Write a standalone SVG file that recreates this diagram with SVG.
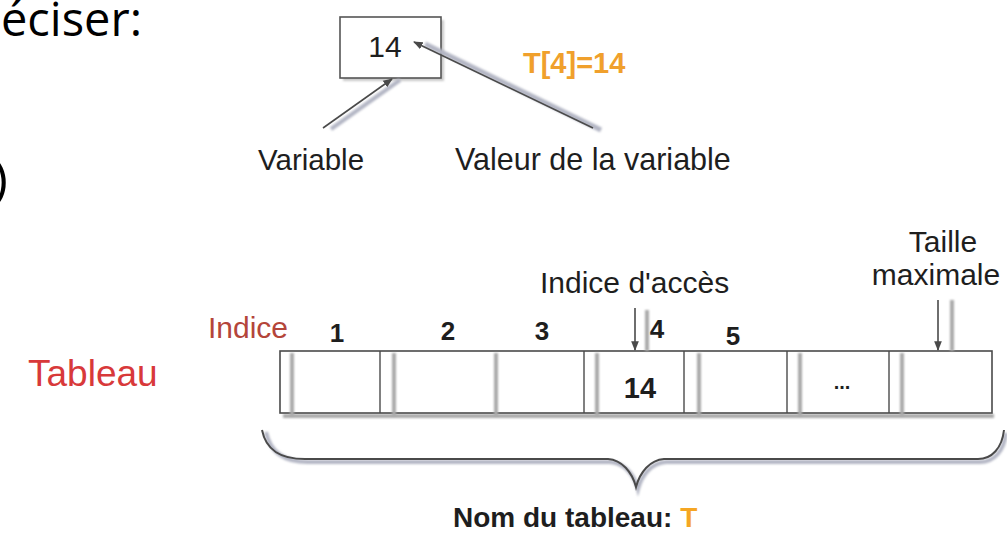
<svg xmlns="http://www.w3.org/2000/svg" width="1007" height="533" viewBox="0 0 1007 533">
  <defs>
    <style>
      .lbl{font-family:"Liberation Sans",Arial,sans-serif;fill:#1e1e1e}
      .b{font-weight:bold}
      .head{font-family:"Open Sans","Liberation Sans",sans-serif;fill:#000}
      .edge{stroke:#4a4a4a;stroke-width:1.6;fill:none}
      .glow{stroke:#b3b6c4;stroke-width:4;fill:none;filter:url(#soft)}
      .cell{fill:#fff;stroke:#4a4a4a;stroke-width:1.6}
      .div{stroke:#4a4a4a;stroke-width:1.4}
      .sh{stroke:#a9a9a9;stroke-width:4;filter:url(#soft)}
    </style>
    <!-- user-space region so blurred straight lines keep their extent -->
    <filter id="soft" filterUnits="userSpaceOnUse" x="0" y="0" width="1007" height="533">
      <feGaussianBlur stdDeviation="1.2"/>
    </filter>
    <marker id="ah" viewBox="0 0 10 10" refX="9" refY="5" markerWidth="6" markerHeight="6" orient="auto-start-reverse">
      <path d="M0,1 L10,5 L0,9 z" fill="#4a4a4a"/>
    </marker>
  </defs>

  <!-- heading fragment -->
  <g id="heading">
    <text class="head" x="1" y="36" font-size="48" textLength="141" lengthAdjust="spacingAndGlyphs">éciser:</text>
    <text class="head" x="-7" y="196" font-size="50">)</text>
  </g>

  <!-- single variable box -->
  <g id="variable-box">
    <rect x="343" y="20" width="101" height="61" fill="#c9c9c9" filter="url(#soft)"/>
    <rect x="340" y="17" width="101" height="61" fill="#fff" stroke="#555" stroke-width="1.6"/>
    <text class="lbl" x="385" y="57" font-size="30" text-anchor="middle">14</text>
  </g>

  <g id="labels-top">
    <text class="lbl" x="258" y="170" font-size="29.5">Variable</text>
    <text class="lbl" x="455" y="170" font-size="30.5">Valeur de la variable</text>
    <text class="lbl b" x="523" y="73" font-size="29" style="fill:#f0a02c">T[4]=14</text>
  </g>

  <!-- array -->
  <g id="table-label">
    <text class="lbl" x="28" y="386" font-size="37" style="fill:#d8393a">Tableau</text>
    <text class="lbl" x="208" y="338" font-size="30" style="fill:#b4453a">Indice</text>
  </g>

  <g id="indices">
    <text class="lbl b" x="337" y="342" font-size="26" text-anchor="middle">1</text>
    <text class="lbl b" x="448" y="340" font-size="26" text-anchor="middle">2</text>
    <text class="lbl b" x="542" y="340" font-size="26" text-anchor="middle">3</text>
    <text class="lbl b" x="657" y="338" font-size="26" text-anchor="middle">4</text>
    <text class="lbl b" x="733" y="345" font-size="26" text-anchor="middle">5</text>
  </g>

  <g id="table">
    <line class="sh" x1="283" y1="416" x2="994" y2="416"/>
    <rect class="cell" x="280" y="351" width="712" height="62"/>
    <g id="cell-shadows">
      <line class="sh" x1="292" y1="353" x2="292" y2="416"/>
      <line class="sh" x1="394" y1="353" x2="394" y2="416"/>
      <line class="sh" x1="496" y1="353" x2="496" y2="416"/>
      <line class="sh" x1="597" y1="353" x2="597" y2="416"/>
      <line class="sh" x1="699" y1="353" x2="699" y2="416"/>
      <line class="sh" x1="800" y1="353" x2="800" y2="416"/>
      <line class="sh" x1="902" y1="353" x2="902" y2="416"/>
    </g>
    <g id="cell-borders">
      <line class="div" x1="380" y1="351" x2="380" y2="413"/>
      <line class="div" x1="584" y1="351" x2="584" y2="413"/>
      <line class="div" x1="684" y1="351" x2="684" y2="413"/>
      <line class="div" x1="787" y1="351" x2="787" y2="413"/>
      <line class="div" x1="889" y1="351" x2="889" y2="413"/>
    </g>
    <text class="lbl b" x="640" y="398" font-size="29" text-anchor="middle">14</text>
    <text class="lbl b" x="842" y="389" font-size="20" text-anchor="middle">...</text>
  </g>

  <g id="table-notes">
    <text class="lbl" x="540" y="293" font-size="30">Indice d'accès</text>
    <text class="lbl" x="943" y="252" font-size="30" text-anchor="middle">Taille</text>
    <text class="lbl" x="936" y="285" font-size="30" text-anchor="middle">maximale</text>
    <text class="lbl b" x="453" y="527" font-size="28">Nom du tableau: <tspan style="fill:#f5a623">T</tspan></text>
  </g>

  <!-- arrows and brace -->
  <g id="connectors">
    <line class="glow" x1="331" y1="129" x2="400" y2="80"/>
    <line class="edge" x1="323" y1="128" x2="392" y2="79" marker-end="url(#ah)"/>
    <line class="glow" x1="601" y1="130" x2="425" y2="44" style="stroke-width:5"/>
    <line class="edge" x1="593" y1="128" x2="414" y2="42" marker-end="url(#ah)"/>
    <line class="sh" x1="647" y1="310" x2="647" y2="351"/>
    <line class="edge" x1="635" y1="308" x2="635" y2="350" marker-end="url(#ah)"/>
    <line class="sh" x1="952" y1="300" x2="952" y2="351"/>
    <line class="edge" x1="938" y1="300" x2="938" y2="350" marker-end="url(#ah)"/>
    <path class="glow" d="M266,432 C270,452 284,462 308,462 L610,462 C624,463 634,474 638,489 C642,474 652,463 666,462 L980,462 C994,462 1004,451 1006,433"/>
    <path class="edge" style="stroke-width:2" d="M262,430 C266,450 280,459 305,459 L608,459 C622,460 632,472 636,487 C640,472 650,460 664,459 L978,459 C992,459 1002,448 1004,430"/>
  </g>
</svg>
